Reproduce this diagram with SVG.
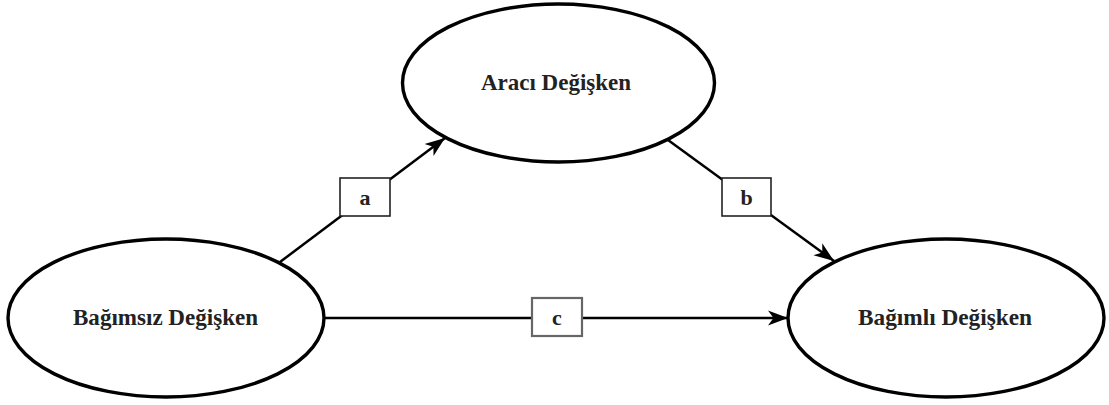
<svg xmlns="http://www.w3.org/2000/svg" width="1109" height="405" viewBox="0 0 1109 405">
<style>
.node{fill:#fff;stroke:#000;stroke-width:3.4}
.lbl{font-family:"Liberation Serif","Times New Roman",serif;font-weight:bold;font-size:23px;fill:#222;text-anchor:middle}
.edge{stroke:#000;stroke-width:2.5;fill:none}
.box{fill:#fff;stroke:#222;stroke-width:1.6}
.boxc{fill:#fff;stroke:#666;stroke-width:2.2}
.el{font-family:"Liberation Serif","Times New Roman",serif;font-weight:bold;font-size:22px;fill:#222;text-anchor:middle}
</style>
<defs>
<marker id="arr" markerUnits="userSpaceOnUse" markerWidth="22" markerHeight="18" viewBox="0 0 22 18" refX="20" refY="9" orient="auto">
<path d="M0,1.5 L20,9 L0,16.5 L5.5,9 Z" fill="#000"/>
</marker>
</defs>
<rect width="1109" height="405" fill="#fff"/>
<g id="connectors">
<line class="edge" x1="280" y1="262" x2="445" y2="138" marker-end="url(#arr)"/>
<line class="edge" x1="668" y1="140" x2="834" y2="261" marker-end="url(#arr)"/>
<line class="edge" x1="325" y1="318" x2="788" y2="318" marker-end="url(#arr)"/>
</g>
<g id="node-araci">
<ellipse class="node" cx="558.5" cy="83" rx="156" ry="79"/>
<text class="lbl" x="556" y="90" textLength="150" lengthAdjust="spacingAndGlyphs">Aracı Değişken</text>
</g>
<g id="node-bagimsiz">
<ellipse class="node" cx="166" cy="318" rx="158" ry="79"/>
<text class="lbl" x="165.5" y="325" textLength="185" lengthAdjust="spacingAndGlyphs">Bağımsız Değişken</text>
</g>
<g id="node-bagimli">
<ellipse class="node" cx="946" cy="318" rx="158" ry="79"/>
<text class="lbl" x="945" y="325" textLength="174" lengthAdjust="spacingAndGlyphs">Bağımlı Değişken</text>
</g>
<g id="label-a">
<rect class="box" x="340" y="178" width="50" height="38"/>
<text class="el" x="365" y="205">a</text>
</g>
<g id="label-b">
<rect class="box" x="722" y="178" width="49" height="38"/>
<text class="el" x="746.5" y="205">b</text>
</g>
<g id="label-c">
<rect class="boxc" x="532" y="298" width="50" height="38"/>
<text class="el" x="557" y="325">c</text>
</g>
</svg>
